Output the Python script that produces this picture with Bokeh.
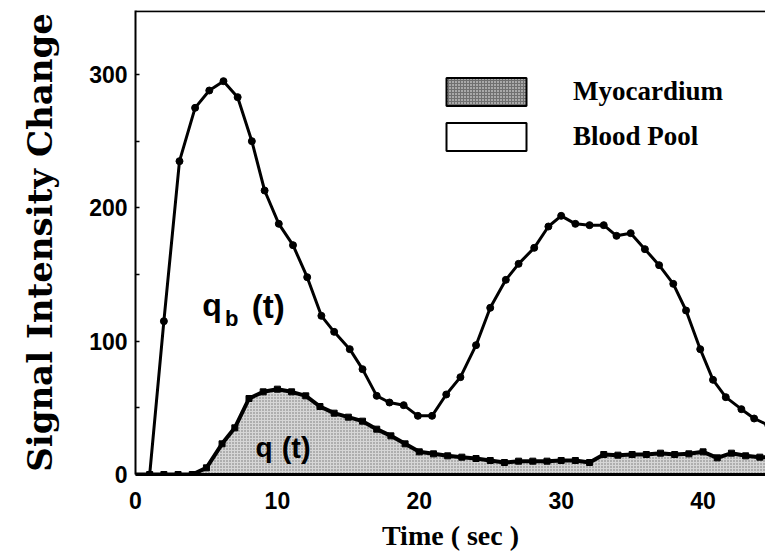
from bokeh.plotting import figure
from bokeh.models import (Range1d, Legend, LegendItem, Label, Span, FixedTicker,
                          ColumnDataSource)
from bokeh.embed import file_html
from bokeh.resources import INLINE

# ---- data ----
t_blood = [1.0, 2.0, 3.1, 4.2, 5.2, 6.2, 7.2, 8.2, 9.1, 10.1, 11.1, 12.1, 13.1,
           14.0, 15.1, 16.0, 17.0, 17.9, 18.9, 19.9, 20.9, 21.9, 22.9, 24.0,
           25.0, 26.1, 27.0, 28.1, 29.1, 30.0, 31.0, 32.0, 33.0, 33.9, 34.9,
           35.9, 36.9, 37.9, 38.8, 39.8, 40.7, 41.6, 42.7, 43.6, 44.6]
blood = [0, 115, 235, 275, 288, 295, 283, 250, 213, 188, 172, 148, 119,
         107, 94, 79, 59, 54, 52, 44, 44, 60, 73, 97,
         125, 146, 158, 170, 186, 194, 188, 187, 187, 179, 181,
         169, 157, 143, 123, 94, 71, 58, 49, 42, 37]

t_myo = [0, 1.0, 2.0, 3.0, 4.0, 5.0, 6.1, 7.0, 8.0, 9.0, 10.0, 11.0, 12.0,
         13.0, 14.0, 15.0, 16.0, 17.0, 18.0, 19.0, 20.0, 21.0, 22.0, 23.0,
         24.0, 25.0, 26.0, 27.0, 28.0, 29.0, 30.0, 31.0, 32.0, 33.0, 34.0,
         35.0, 36.0, 37.0, 38.0, 39.0, 40.0, 41.0, 42.0, 43.0, 44.0, 45.0]
myo = [0, 0, 0, 0, 0, 5, 23, 35, 57, 62, 64, 62, 59,
       51, 46, 43, 40, 34, 29, 23, 17, 15.5, 14, 13,
       12, 10.5, 9, 10, 10, 10, 10.5, 10.5, 9, 15, 14.5,
       15, 15, 16, 15, 15.5, 17, 12.5, 16, 14, 13, 13]

x_ticks = [0, 10, 20, 30, 40]
y_ticks = [0, 100, 200, 300]
y_minor = [50, 150, 250]
series_names = ["Myocardium", "Blood Pool"]

p = figure(width=765, height=560, output_backend="svg", toolbar_location=None,
           x_range=Range1d(0, 44.4), y_range=Range1d(0, 348),
           min_border_left=135, min_border_right=0, min_border_top=10,
           min_border_bottom=86)
p.xgrid.visible = False
p.ygrid.visible = False
p.outline_line_color = None
p.background_fill_color = "white"
p.border_fill_color = "white"

# myocardium stippled area
p.varea(x=t_myo, y1=0, y2=myo, fill_color="#d6d6d6", hatch_pattern=".",
        hatch_color="#444444", hatch_scale=3, hatch_alpha=0.7)
p.line(t_myo, myo, line_color="black", line_width=4)
p.scatter(t_myo[1:], myo[1:], marker="square", size=6, color="black")

# blood pool curve
p.line([0] + t_blood, [0] + blood, line_color="black", line_width=3)
p.scatter(t_blood, blood, size=7, color="black")

# legend swatches (renderers with a single non-drawable row, only used by the legend)
nan = float("nan")
swatch = ColumnDataSource(dict(left=[nan], right=[nan], top=[nan], bottom=[nan]))
r_myo = p.quad(left="left", right="right", top="top", bottom="bottom", source=swatch,
               fill_color="#707070", hatch_pattern=".", hatch_color="white",
               hatch_scale=3, line_color="black", line_width=2)
r_bp = p.quad(left="left", right="right", top="top", bottom="bottom", source=swatch,
              fill_color="white", line_color="black", line_width=2)
legend = Legend(items=[LegendItem(label=series_names[0], renderers=[r_myo]),
                       LegendItem(label=series_names[1], renderers=[r_bp])],
                location=(301, 320), glyph_width=100, glyph_height=35,
                label_height=35, label_standoff=37, spacing=10, padding=0,
                margin=0, border_line_color=None, background_fill_alpha=0,
                label_text_font="Liberation Serif", label_text_font_style="bold",
                label_text_font_size="27px", label_text_color="black")
p.add_layout(legend)

# top frame line
p.add_layout(Span(location=347.5, dimension="width", line_color="black",
                  line_width=2))

# curve annotations
lab = dict(text_font="Liberation Sans", text_font_style="bold", text_color="black",
           text_baseline="alphabetic")
p.add_layout(Label(x=4.7, y=127, text="q", text_font_size="32px", **lab))
p.add_layout(Label(x=6.3, y=117, text="b", text_font_size="22px", **lab))
p.add_layout(Label(x=8.2, y=126, text="(t)", text_font_size="33px", **lab))
p.add_layout(Label(x=8.45, y=20, text="q", text_font_size="28px", **lab))
p.add_layout(Label(x=10.3, y=20, text="(t)", text_font_size="29px", **lab))

# x axis
xa = p.xaxis[0]
xa.ticker = FixedTicker(ticks=x_ticks)
xa.major_tick_line_color = None
xa.minor_tick_line_color = None
xa.axis_line_width = 3
xa.major_label_text_font = "Liberation Sans"
xa.major_label_text_font_style = "bold"
xa.major_label_text_font_size = "23px"
xa.major_label_text_color = "black"
xa.major_label_standoff = 11
xa.axis_label = "Time ( sec )"
xa.axis_label_text_font = "Liberation Serif"
xa.axis_label_text_font_style = "bold"
xa.axis_label_text_font_size = "28px"
xa.axis_label_text_color = "black"
xa.axis_label_standoff = 8

# y axis
ya = p.yaxis[0]
ya.ticker = FixedTicker(ticks=y_ticks, minor_ticks=y_minor)
ya.major_tick_in = 4
ya.major_tick_out = 0
ya.minor_tick_in = 4
ya.minor_tick_out = 0
ya.major_tick_line_width = 1.5
ya.minor_tick_line_width = 1.5
ya.axis_line_width = 2
ya.major_label_text_font = "Liberation Sans"
ya.major_label_text_font_style = "bold"
ya.major_label_text_font_size = "23px"
ya.major_label_text_color = "black"
ya.major_label_standoff = 8
ya.axis_label = "Signal Intensity Change"
ya.axis_label_text_font = "DejaVu Serif"
ya.axis_label_text_font_style = "bold"
ya.axis_label_text_font_size = "34px"
ya.axis_label_text_color = "black"
ya.axis_label_standoff = 26

open("out.html", "w").write(file_html(p, INLINE))
